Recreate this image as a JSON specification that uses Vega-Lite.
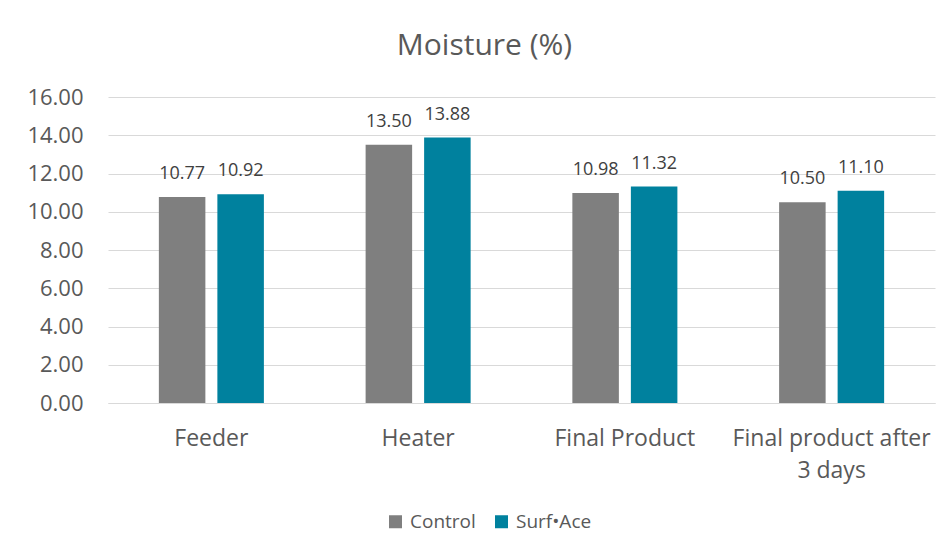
{
  "$schema": "https://vega.github.io/schema/vega-lite/v6.json",
  "width": 827,
  "height": 306,
  "autosize": {"type": "none"},
  "padding": {"left": 108, "top": 97, "right": 14, "bottom": 148},
  "background": "white",
  "config": {"view": {"stroke": null}},
  "title": {
    "text": "Moisture (%)",
    "font": "Open Sans",
    "fontSize": 30,
    "fontWeight": "normal",
    "color": "#595959",
    "anchor": "middle",
    "dx": -37,
    "offset": 25
  },
  "data": {
    "values": [
      {"stage": "Feeder", "group": "Control", "value": 10.77},
      {"stage": "Feeder", "group": "Surf•Ace", "value": 10.92},
      {"stage": "Heater", "group": "Control", "value": 13.50},
      {"stage": "Heater", "group": "Surf•Ace", "value": 13.88},
      {"stage": "Final Product", "group": "Control", "value": 10.98},
      {"stage": "Final Product", "group": "Surf•Ace", "value": 11.32},
      {"stage": "Final product after 3 days", "group": "Control", "value": 10.50},
      {"stage": "Final product after 3 days", "group": "Surf•Ace", "value": 11.10}
    ]
  },
  "encoding": {
    "x": {
      "field": "stage",
      "type": "nominal",
      "sort": null,
      "scale": {"paddingInner": 0.492, "paddingOuter": 0.246},
      "axis": {
        "title": null,
        "labelAngle": 0,
        "labelFont": "Open Sans",
        "labelFontSize": 23,
        "labelColor": "#595959",
        "labelPadding": 24,
        "labelLimit": 400,
        "ticks": false,
        "domainColor": "#d9d9d9",
        "labelExpr": "datum.label == 'Final product after 3 days' ? ['Final product after', '3 days'] : datum.label",
        "labelLineHeight": 32
      }
    },
    "xOffset": {
      "field": "group",
      "type": "nominal",
      "scale": {"paddingInner": 0.205, "paddingOuter": 0}
    },
    "y": {
      "field": "value",
      "type": "quantitative",
      "scale": {"domain": [0, 16], "nice": false},
      "axis": {
        "title": null,
        "values": [0, 2, 4, 6, 8, 10, 12, 14, 16],
        "format": ".2f",
        "labelFont": "Open Sans",
        "labelFontSize": 22,
        "labelColor": "#595959",
        "labelPadding": 25,
        "ticks": false,
        "domain": false,
        "gridColor": "#d9d9d9"
      }
    }
  },
  "layer": [
    {
      "mark": {"type": "bar"},
      "encoding": {
        "color": {
          "field": "group",
          "type": "nominal",
          "scale": {"domain": ["Control", "Surf•Ace"], "range": ["#7f7f7f", "#00819e"]},
          "legend": {
            "title": null,
            "orient": "none",
            "direction": "horizontal",
            "legendX": 278,
            "legendY": 415,
            "symbolType": "square",
            "symbolSize": 169,
            "symbolStrokeWidth": 0,
            "labelFont": "Open Sans",
            "labelFontSize": 19,
            "labelColor": "#595959",
            "columnPadding": 16,
            "labelOffset": 5
          }
        }
      }
    },
    {
      "mark": {"type": "text", "dy": -18, "font": "Open Sans", "fontSize": 18, "color": "#404040", "baseline": "alphabetic"},
      "encoding": {
        "text": {"field": "value", "type": "quantitative", "format": ".2f"}
      }
    }
  ]
}
